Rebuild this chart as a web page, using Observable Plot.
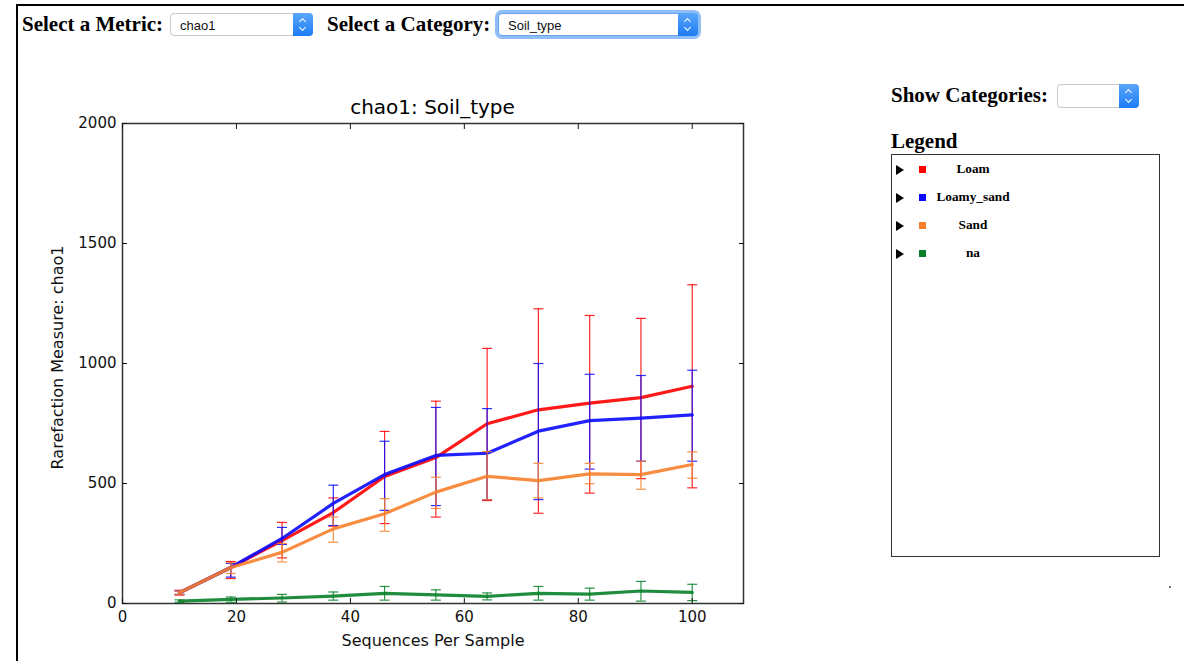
<!DOCTYPE html>
<html>
<head>
<meta charset="utf-8">
<script src="https://cdn.jsdelivr.net/npm/d3@7"></script>
<script src="https://cdn.jsdelivr.net/npm/@observablehq/plot@0.6"></script>
<style>
  html, body { margin: 0; padding: 0; background: #fff; width: 1184px; height: 661px; overflow: hidden; }
  #page { position: absolute; left: 16px; top: 4px; width: 1200px; height: 700px; border-left: 2px solid #000; border-top: 2px solid #000; }
  .lbl { position: absolute; font-family: "Liberation Serif", serif; font-weight: bold; font-size: 21px; color: #000; white-space: nowrap; }
  .sel { position: absolute; box-sizing: border-box; background: #fff; border: 1px solid #c8c8c8; border-radius: 4px; font-family: "Liberation Sans", Arial, sans-serif; font-size: 13px; color: #111; }
  .sel .txt { position: absolute; left: 9px; top: 50%; transform: translateY(-50%); }
  .sel .btn { position: absolute; right: -1px; top: -1px; bottom: -1px; width: 20px; border-radius: 0 4px 4px 0; background: linear-gradient(#5aa6fb, #1c7cf4); }
  .sel .btn::before, .sel .btn::after { content: ""; position: absolute; left: 7px; width: 4px; height: 4px; border-left: 1.5px solid #fff; border-top: 1.5px solid #fff; }
  .sel .btn::before { top: 6px; transform: rotate(45deg); }
  .sel .btn::after { bottom: 6px; transform: rotate(225deg); }
  .focus { box-shadow: 0 0 0 3px #8fbdf6; border-color: #6aa2ef; }
  #plotwrap { position: absolute; left: 0; top: 90px; }
  #title { position: absolute; left: 122px; width: 621px; top: 95px; text-align: center; font-family: "DejaVu Sans", sans-serif; font-size: 20px; color: #000; }
  #legbox { position: absolute; left: 891px; top: 154px; width: 269px; height: 403px; box-sizing: border-box; border: 1px solid #333; }
  .entry { position: absolute; left: 0; height: 14px; width: 200px; }
  .tri { position: absolute; left: 4px; top: 1px; width: 0; height: 0; border-top: 5px solid transparent; border-bottom: 5px solid transparent; border-left: 8px solid #000; }
  .sq { position: absolute; left: 27px; top: 2px; width: 7px; height: 7px; }
  .ename { position: absolute; left: 36px; width: 90px; top: -3px; text-align: center; font-family: "Liberation Serif", serif; font-weight: bold; font-size: 13.3px; }
</style>
</head>
<body>
<div id="page"></div>
<div class="lbl" style="left:22px; top:12px;">Select a Metric:</div>
<div class="sel" style="left:170px; top:13px; width:143px; height:23px;"><span class="txt">chao1</span><div class="btn"></div></div>
<div class="lbl" style="left:327px; top:12px;">Select a Category:</div>
<div class="sel focus" style="left:498px; top:13px; width:200px; height:23px;"><span class="txt">Soil_type</span><div class="btn"></div></div>
<div class="lbl" style="left:891px; top:83px;">Show Categories:</div>
<div class="sel" style="left:1057px; top:84px; width:82px; height:24px;"><div class="btn"></div></div>
<div class="lbl" style="left:891px; top:129px;">Legend</div>
<div id="legbox"></div>
<div style="position:absolute; left:1169px; top:586px; width:2px; height:2px; background:#777;"></div>
<div id="plotwrap"></div>
<div id="title">chao1: Soil_type</div>
<script>
// ---- data ----
const seqsPerSample = [10, 19, 28, 37, 46, 55, 64, 73, 82, 91, 100];
const categories = ["Loam", "Loamy_sand", "Sand", "na"];
const categoryColors = ["#ff0000", "#0a0aff", "#f77f2c", "#088028"];

const loamMean  = [45, 150, 262, 379, 529, 608, 749, 807, 835, 858, 905];
const loamLow   = [35, 104, 190, 322, 333, 360, 429, 376, 460, 520, 482];
const loamHigh  = [55, 175, 338, 440, 717, 843, 1063, 1228, 1200, 1188, 1328];

const loamySandMean = [45, 150, 271, 417, 537, 617, 626, 718, 762, 772, 786];
const loamySandLow  = [38, 110, 246, 325, 388, 408, 433, 433, 560, 593, 593];
const loamySandHigh = [52, 167, 317, 493, 676, 817, 812, 1000, 955, 950, 972];

const sandMean = [45, 150, 213, 311, 374, 464, 530, 512, 540, 537, 579];
const sandLow  = [38, 125, 173, 255, 301, 396, 433, 440, 499, 476, 522];
const sandHigh = [52, 170, 250, 360, 437, 526, 633, 584, 584, 593, 632];

const naMean = [10, 17, 23, 31, 42, 36, 30, 42, 39, 52, 46];
const naLow  = [5, 5, 6, 14, 14, 14, 15, 14, 14, 10, 12];
const naHigh = [15, 27, 38, 48, 71, 57, 44, 71, 64, 92, 80];

const xTicks = [0, 20, 40, 60, 80, 100];
const yTicks = [0, 500, 1000, 1500, 2000];
const xLabel = "Sequences Per Sample";
const yLabel = "Rarefaction Measure: chao1";

const seriesMeans = [loamMean, loamySandMean, sandMean, naMean];
const seriesLows = [loamLow, loamySandLow, sandLow, naLow];
const seriesHighs = [loamHigh, loamySandHigh, sandHigh, naHigh];

// ---- build table ----
const rows = [];
categories.forEach((c, i) => {
  seqsPerSample.forEach((s, j) => {
    rows.push({cat: c, seqs: s, mean: seriesMeans[i][j], low: seriesLows[i][j], high: seriesHighs[i][j]});
  });
});

const capSymbol = { draw(ctx) { ctx.moveTo(-5, 0); ctx.lineTo(5, 0); } };

const seriesMarks = [];
categories.forEach((c, i) => {
  const d = rows.filter(r => r.cat === c);
  const col = categoryColors[i];
  seriesMarks.push(
    Plot.ruleX(d, {x: "seqs", y1: "low", y2: "high", stroke: col, strokeWidth: 1.2, strokeOpacity: 0.85}),
    Plot.dot(d, {x: "seqs", y: "low", symbol: capSymbol, fill: "none", stroke: col, strokeWidth: 1.2, strokeOpacity: 0.85}),
    Plot.dot(d, {x: "seqs", y: "high", symbol: capSymbol, fill: "none", stroke: col, strokeWidth: 1.2, strokeOpacity: 0.85}),
    Plot.line(d, {x: "seqs", y: "mean", stroke: col, strokeWidth: 3.2, strokeOpacity: 0.9})
  );
});

const chart = Plot.plot({
  width: 760,
  height: 570,
  marginLeft: 122,
  marginRight: 17,
  marginTop: 33,
  marginBottom: 57,
  style: {fontFamily: "DejaVu Sans, sans-serif", fontSize: "15px", color: "#111", background: "transparent"},
  x: {domain: [0, 109], ticks: xTicks},
  y: {domain: [0, 2000], ticks: yTicks},
  marks: [
    Plot.frame({stroke: "#333", strokeWidth: 1.5}),
    ...seriesMarks,
    Plot.axisX({ticks: xTicks, anchor: "bottom", tickSize: -5, tickPadding: 13, tickFormat: d3.format("d"), label: null, fontSize: 15}),
    Plot.axisX({ticks: xTicks, anchor: "top", tickSize: -5, tickFormat: () => "", label: null}),
    Plot.axisY({ticks: yTicks, anchor: "left", tickSize: -5, tickPadding: 11, tickFormat: d3.format("d"), label: null, fontSize: 15}),
    Plot.axisY({ticks: yTicks, anchor: "right", tickSize: -5, tickFormat: () => "", label: null}),
    Plot.text([xLabel], {text: d => d, frameAnchor: "bottom", dy: 42, fontSize: 16, fill: "#111"}),
    Plot.text([yLabel], {text: d => d, frameAnchor: "left", textAnchor: "middle", dx: -65, dy: -6, rotate: -90, fontSize: 16, fill: "#111"})
  ]
});
document.getElementById("plotwrap").appendChild(chart);

// ---- legend ----
const leg = document.getElementById("legbox");
categories.forEach((c, i) => {
  const e = document.createElement("div");
  e.className = "entry";
  e.style.top = (9 + i * 28) + "px";
  e.innerHTML = `<div class="tri"></div><div class="sq" style="background:${categoryColors[i]}"></div><div class="ename">${c}</div>`;
  leg.appendChild(e);
});
</script>
</body>
</html>
